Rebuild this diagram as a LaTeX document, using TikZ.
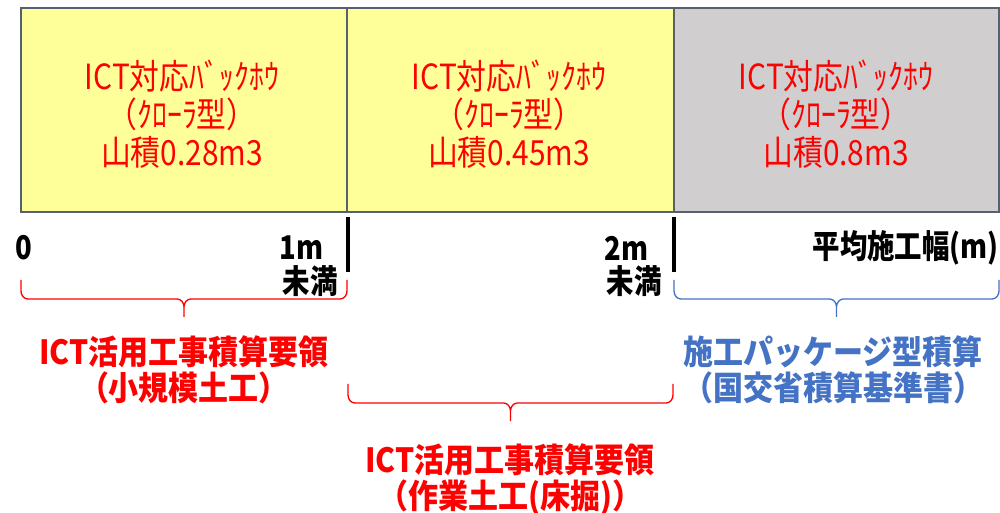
\documentclass[tikz,border=0pt]{standalone}
\usepackage{fontspec}
\setmainfont{Noto Sans CJK JP}
\newfontfamily\jpcell[FakeStretch=0.86]{Noto Sans CJK JP}
\newfontfamily\jpaxis[FakeStretch=0.84]{Noto Sans CJK JP}
\newfontfamily\jplabel[FakeStretch=0.9]{Noto Sans CJK JP}
\definecolor{boxyellow}{HTML}{FFFF99}
\definecolor{boxgray}{HTML}{D0CECE}
\definecolor{edgecol}{HTML}{56606F}
\definecolor{txtred}{HTML}{FF0000}
\definecolor{txtblue}{HTML}{4472C4}
\tikzset{
  cell/.style={draw=edgecol, line width=1.5pt, inner sep=0pt,
    minimum width=#1*0.75pt, minimum height=153pt},
  celltext/.style={text=txtred, align=center, inner sep=0pt,
    font=\jpcell\fontsize{26}{28.5}\selectfont},
  axislabel/.style={text=black, inner sep=0pt, font=\jpaxis\fontsize{24.5}{26}\selectfont\bfseries},
  ticker/.style={line width=2.4pt, black},
  bracelabel/.style={align=center, inner sep=0pt, font=\jplabel\fontsize{25}{27}\selectfont\bfseries},
  bracestyle/.style={line width=1pt}
}
\newcommand\drawbrace[4]{% left x, right x, top y, colour
  \pgfmathsetmacro\bm{(#1+#2)/2}
  \draw[bracestyle, #4] (#1,#3) -- (#1,#3+11) to[out=-90,in=180] (#1+7,#3+19)
    -- (\bm-7,#3+19) to[out=0,in=90] (\bm,#3+27) -- (\bm,#3+37)
    -- (\bm,#3+27) to[out=90,in=180] (\bm+7,#3+19)
    -- (#2-7,#3+19) to[out=0,in=-90] (#2,#3+11) -- (#2,#3);
}
\begin{document}
\begin{tikzpicture}[x=0.75pt,y=-0.75pt]
\useasboundingbox (0,0) rectangle (1000,513);
% boxes
\node[cell=326, fill=boxyellow] (b1) at (184,110) {};
\node[cell=327, fill=boxyellow] (b2) at (510.5,110) {};
\node[cell=325, fill=boxgray] (b3) at (836.5,110) {};
\node[celltext] (t1) at (182,114) {ICT対応ﾊﾞｯｸﾎｳ\\（ｸﾛｰﾗ型）\\山積0.28m3};
\node[celltext] (t2) at (509,114) {ICT対応ﾊﾞｯｸﾎｳ\\（ｸﾛｰﾗ型）\\山積0.45m3};
\node[celltext] (t3) at (836,114) {ICT対応ﾊﾞｯｸﾎｳ\\（ｸﾛｰﾗ型）\\山積0.8m3};
% ticks
\coordinate (k1a) at (348,217); \coordinate (k1b) at (348,272);
\coordinate (k2a) at (674,217); \coordinate (k2b) at (674,272);
\draw[ticker] (k1a) -- (k1b);
\draw[ticker] (k2a) -- (k2b);
% axis labels
\node[axislabel, anchor=west] (z0) at (15,248) {0};
\node[axislabel, anchor=east] (m1) at (324,248) {1m};
\node[axislabel, anchor=east] (u1) at (338,281) {未満};
\node[axislabel, anchor=east] (m2) at (649,248) {2m};
\node[axislabel, anchor=east] (u2) at (662,281) {未満};
\node[axislabel, anchor=east] (ax) at (999,248) {平均施工幅(m)};
% braces
\drawbrace{21}{347}{280}{txtred}
\drawbrace{674}{999}{280}{txtblue}
\drawbrace{348}{673}{384}{txtred}
% brace labels
\node[bracelabel, text=txtred] (l1) at (184,370) {ICT活用工事積算要領\\（小規模土工）};
\node[bracelabel, text=txtblue] (l2) at (833,370) {施工パッケージ型積算\\（国交省積算基準書）};
\node[bracelabel, text=txtred] (l3) at (510,479) {ICT活用工事積算要領\\（作業土工(床掘)）};
\end{tikzpicture}
\end{document}
